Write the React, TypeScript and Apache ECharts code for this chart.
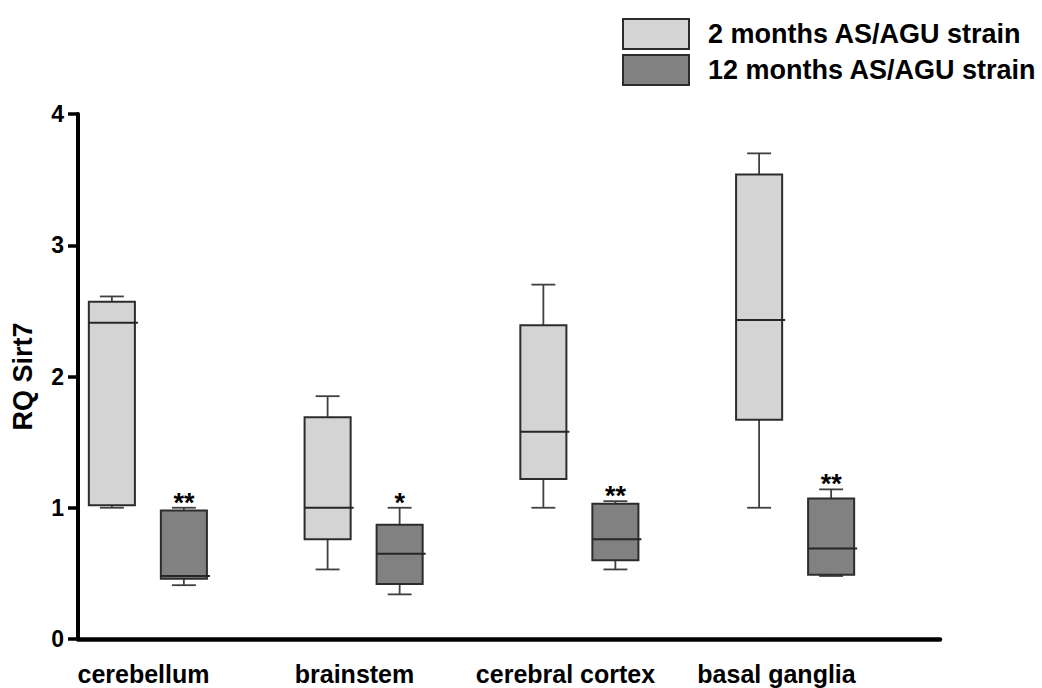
import React, { useEffect, useRef } from 'react';
import * as echarts from 'echarts';

const categories = ['cerebellum', 'brainstem', 'cerebral cortex', 'basal ganglia'];
const seriesNames = ['2 months AS/AGU strain', '12 months AS/AGU strain'];

// 2 months (light boxes)
const lightMin = [1.0, 0.53, 1.0, 1.0];
const lightQ1 = [1.02, 0.76, 1.22, 1.67];
const lightMedian = [2.41, 1.0, 1.58, 2.43];
const lightQ3 = [2.57, 1.69, 2.39, 3.54];
const lightMax = [2.61, 1.85, 2.7, 3.7];

// 12 months (dark boxes)
const darkMin = [0.41, 0.34, 0.53, 0.48];
const darkQ1 = [0.46, 0.42, 0.6, 0.49];
const darkMedian = [0.48, 0.65, 0.76, 0.69];
const darkQ3 = [0.98, 0.87, 1.03, 1.07];
const darkMax = [1.0, 1.0, 1.05, 1.14];
const darkSignificance = ['**', '*', '**', '**'];

const yMinValue = 0;
const yMaxValue = 4;
const yInterval = 1;

const FONT = '"Liberation Sans", Arial, Helvetica, sans-serif';
const LIGHT_FILL = '#d4d4d4';
const DARK_FILL = '#818181';

function makeRender(offsetFrac: number, fill: string, marks: string[] | null) {
  return (params: any, api: any) => {
    const i = api.value(0);
    const band = api.size([1, 0])[0];
    const cx = api.coord([i, 0])[0] + offsetFrac * band;
    const yv = (k: number) => api.coord([i, api.value(k)])[1];
    const yMin = yv(1);
    const yQ1 = yv(2);
    const yMed = yv(3);
    const yQ3 = yv(4);
    const yMax = yv(5);
    const bw = 0.2135 * band;
    const cw = 0.111 * band;
    const x0 = cx - bw / 2;
    const x1 = cx + bw / 2;
    const wStyle = { stroke: '#404040', lineWidth: 1.8, fill: null };
    const children: any[] = [
      { type: 'line', shape: { x1: cx, y1: yQ3, x2: cx, y2: yMax }, style: wStyle },
      { type: 'line', shape: { x1: cx - cw / 2, y1: yMax, x2: cx + cw / 2, y2: yMax }, style: wStyle },
      { type: 'line', shape: { x1: cx, y1: yQ1, x2: cx, y2: yMin }, style: wStyle },
      { type: 'line', shape: { x1: cx - cw / 2, y1: yMin, x2: cx + cw / 2, y2: yMin }, style: wStyle },
      {
        type: 'rect',
        shape: { x: x0, y: yQ3, width: bw, height: yQ1 - yQ3 },
        style: { fill, stroke: '#2c2c2c', lineWidth: 2 },
      },
      { type: 'line', shape: { x1: x0, y1: yMed, x2: x1 + 3, y2: yMed }, style: { stroke: '#262626', lineWidth: 2 } },
    ];
    if (marks) {
      children.push({
        type: 'text',
        x: cx,
        y: yMax - 5,
        style: {
          text: marks[params.dataIndex],
          fill: '#000',
          fontSize: 27,
          fontWeight: 'bold',
          fontFamily: FONT,
          align: 'center',
          verticalAlign: 'middle',
        },
      });
    }
    return { type: 'group', children };
  };
}

export default function App() {
  const ref = useRef<HTMLDivElement>(null);
  useEffect(() => {
    if (!ref.current) return;
    const chart = echarts.init(ref.current, undefined, { renderer: 'svg' });
    const lightData = categories.map((_, i) => [i, lightMin[i], lightQ1[i], lightMedian[i], lightQ3[i], lightMax[i]]);
    const darkData = categories.map((_, i) => [i, darkMin[i], darkQ1[i], darkMedian[i], darkQ3[i], darkMax[i]]);
    const option: any = {
      animation: false,
      backgroundColor: '#ffffff',
      textStyle: { fontFamily: FONT },
      legend: {
        orient: 'vertical',
        left: 617,
        top: 13,
        itemWidth: 66,
        itemHeight: 30,
        itemGap: 4,
        icon: 'rect',
        selectedMode: false,
        data: seriesNames,
        textStyle: {
          fontSize: 27,
          lineHeight: 30,
          fontWeight: 'bold',
          color: '#000',
          fontFamily: FONT,
          padding: [0, 0, 0, 14],
        },
      },
      grid: [
        { left: 78, right: 102, top: 114, bottom: 49 },
        { left: 40, right: 139, top: 114, bottom: 49 },
        { left: 38, right: 160, top: 114, bottom: 49 },
      ],
      xAxis: [
        {
          gridIndex: 0,
          type: 'value',
          min: 0,
          max: 1,
          axisLine: { show: true, lineStyle: { color: '#000', width: 4.5 } },
          axisTick: { show: false },
          axisLabel: { show: false },
          splitLine: { show: false },
        },
        {
          gridIndex: 1,
          type: 'category',
          data: categories,
          show: false,
        },
        {
          gridIndex: 2,
          type: 'category',
          data: categories,
          axisLine: { show: false },
          axisTick: { show: false },
          splitLine: { show: false },
          axisLabel: {
            interval: 0,
            fontSize: 25,
            fontWeight: 'bold',
            color: '#000',
            fontFamily: FONT,
            margin: 22,
          },
        },
      ],
      yAxis: [
        {
          gridIndex: 0,
          type: 'value',
          min: yMinValue,
          max: yMaxValue,
          interval: yInterval,
          name: 'RQ Sirt7',
          nameLocation: 'middle',
          nameRotate: 90,
          nameGap: 42,
          nameTextStyle: { fontSize: 27, fontWeight: 'bold', color: '#000', fontFamily: FONT },
          axisLine: { show: true, lineStyle: { color: '#000', width: 4 } },
          axisTick: { show: true, length: 10, lineStyle: { color: '#000', width: 3.5 } },
          axisLabel: { fontSize: 23, fontWeight: 'bold', color: '#000', fontFamily: FONT, margin: 14 },
          splitLine: { show: false },
        },
        {
          gridIndex: 1,
          type: 'value',
          min: yMinValue,
          max: yMaxValue,
          show: false,
          splitLine: { show: false },
        },
        {
          gridIndex: 2,
          type: 'value',
          min: yMinValue,
          max: yMaxValue,
          show: false,
          splitLine: { show: false },
        },
      ],
      series: [
        {
          name: seriesNames[0],
          type: 'custom',
          xAxisIndex: 1,
          yAxisIndex: 1,
          itemStyle: { color: LIGHT_FILL, borderColor: '#2c2c2c', borderWidth: 2 },
          encode: { x: 0, y: [1, 2, 3, 4, 5] },
          data: lightData,
          renderItem: makeRender(-0.1669, LIGHT_FILL, null),
        },
        {
          name: seriesNames[1],
          type: 'custom',
          xAxisIndex: 1,
          yAxisIndex: 1,
          itemStyle: { color: DARK_FILL, borderColor: '#2c2c2c', borderWidth: 2 },
          encode: { x: 0, y: [1, 2, 3, 4, 5] },
          data: darkData,
          renderItem: makeRender(0.1669, DARK_FILL, darkSignificance),
        },
      ],
    };
    chart.setOption(option);
    return () => chart.dispose();
  }, []);
  return (
    <div
      ref={ref}
      style={{ position: 'absolute', left: 0, top: 0, width: 1042, height: 688, background: '#fff' }}
    />
  );
}
